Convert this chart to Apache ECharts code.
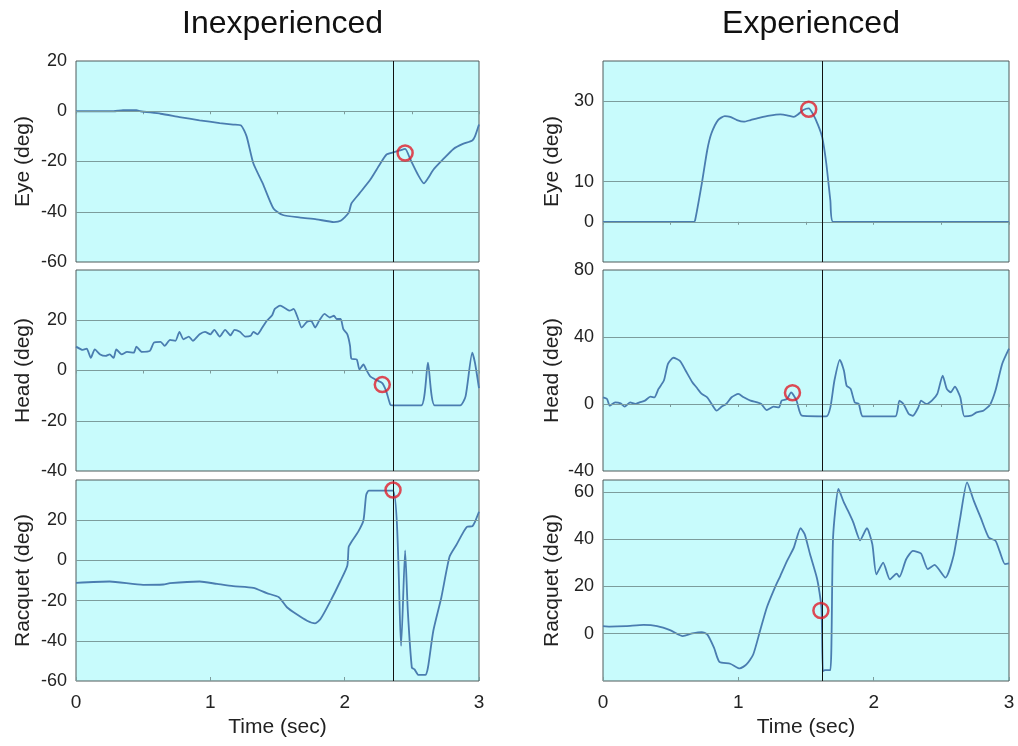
<!DOCTYPE html>
<html>
<head>
<meta charset="utf-8">
<script src="https://cdn.jsdelivr.net/npm/echarts@6/dist/echarts.min.js"></script>
<style>
  html, body { margin: 0; background: #fff; }
  #main { width: 1018px; height: 746px; }
</style>
</head>
<body>
<div id="main"></div>
<script>
// [time (sec), angle (deg)]
var inexpEye = [[0,0],[0.28,0],[0.35,0.4],[0.45,0.4],[0.48,0],[0.63,-1],[0.77,-2.3],[0.92,-3.6],[1.07,-4.7],[1.17,-5.3],[1.23,-5.7],[1.27,-10],[1.32,-20.7],[1.39,-28.7],[1.47,-38.7],[1.54,-41.3],[1.67,-42.3],[1.79,-43],[1.92,-44.1],[1.97,-43.6],[2.03,-40.4],[2.05,-36.7],[2.11,-32.7],[2.19,-27.3],[2.26,-21.3],[2.31,-17.3],[2.36,-16.4],[2.41,-15.6],[2.45,-15],[2.49,-19.3],[2.54,-24.7],[2.59,-28.7],[2.62,-26.7],[2.66,-23.3],[2.73,-19.3],[2.81,-15],[2.88,-13],[2.95,-11.6],[2.97,-10],[3,-5.3]];
var inexpHead = [[0,9.5],[0.05,8.2],[0.08,8.7],[0.11,5],[0.14,8.4],[0.18,6.4],[0.22,5.8],[0.25,6.4],[0.28,5],[0.30,8.4],[0.34,6.4],[0.38,7.4],[0.43,7.1],[0.45,9.5],[0.49,7.4],[0.55,7.8],[0.58,11.1],[0.63,11.4],[0.66,9.8],[0.70,12.2],[0.74,11.8],[0.77,15.4],[0.80,12.4],[0.84,13.5],[0.87,11.8],[0.92,14.4],[0.96,15.4],[1.00,14.4],[1.03,16.2],[1.07,13.5],[1.11,16.2],[1.15,14],[1.18,16.2],[1.22,15.4],[1.26,13.5],[1.30,13.8],[1.32,15.4],[1.35,14.4],[1.38,16.5],[1.42,19.8],[1.46,22],[1.48,24.5],[1.52,25.8],[1.56,24.7],[1.59,23.8],[1.62,24.5],[1.65,21.1],[1.68,17.1],[1.72,19.4],[1.75,19.8],[1.78,17.1],[1.81,19.8],[1.85,22.5],[1.89,21.1],[1.92,21.8],[1.94,20.5],[1.97,20.5],[1.99,16.5],[2.02,14.4],[2.04,9.8],[2.05,4.7],[2.09,4.4],[2.11,0.4],[2.14,2.4],[2.16,0.4],[2.19,-2.3],[2.24,-3.9],[2.28,-5],[2.31,-8.3],[2.34,-13.6],[2.36,-13.9],[2.57,-13.9],[2.62,3.1],[2.67,-13.9],[2.86,-13.9],[2.90,-10.3],[2.95,7.1],[2.97,3.1],[3,-7]];
var inexpRacquet = [[0,-11.2],[0.25,-10.5],[0.50,-12.2],[0.65,-12],[0.70,-11.3],[0.92,-10.5],[1.05,-11.7],[1.17,-12.8],[1.32,-13.7],[1.42,-16.3],[1.51,-18.3],[1.57,-23.3],[1.64,-26.7],[1.72,-30],[1.78,-31.3],[1.82,-29.2],[1.89,-20.8],[1.97,-10],[2.02,-2.5],[2.03,6.7],[2.05,9.2],[2.10,14.2],[2.14,20],[2.16,32.5],[2.18,34.7],[2.36,34.7],[2.42,-42.5],[2.45,5],[2.47,-25],[2.50,-53.3],[2.52,-54.2],[2.55,-57],[2.60,-57],[2.62,-53.3],[2.66,-35],[2.72,-18.3],[2.78,1.7],[2.83,7.5],[2.91,16.7],[2.95,17],[2.97,19.2],[3,24.2]];
var expEye = [[0,0],[0.667,0],[0.68,0.3],[0.73,9.5],[0.77,17.8],[0.80,21.9],[0.85,25.3],[0.90,26.3],[0.94,26.1],[0.99,25.3],[1.04,24.9],[1.09,25.3],[1.16,25.9],[1.23,26.4],[1.31,26.7],[1.36,26.5],[1.41,26.1],[1.44,26.7],[1.48,27.8],[1.52,28.2],[1.55,26.9],[1.59,24],[1.62,21],[1.65,14.5],[1.68,5.3],[1.70,0],[3,0]];
var expHead = [[0,4],[0.03,3],[0.05,-1],[0.09,1],[0.13,0.4],[0.16,-1.6],[0.20,1],[0.24,0],[0.27,1],[0.31,2],[0.35,4.4],[0.38,4],[0.41,9],[0.45,14],[0.48,24],[0.52,27.6],[0.57,25.6],[0.61,20],[0.66,13],[0.69,10],[0.73,6],[0.77,4],[0.80,0.4],[0.84,-4],[0.88,-1.4],[0.91,0],[0.95,4],[1.00,6],[1.04,4],[1.09,2],[1.14,1],[1.17,0],[1.21,-3.6],[1.26,-1.6],[1.30,-2],[1.32,2],[1.36,3],[1.39,7],[1.43,2],[1.47,-7],[1.65,-7.4],[1.68,-2],[1.71,14],[1.75,26.4],[1.78,20],[1.80,11],[1.83,9],[1.86,1],[1.89,0],[1.92,-7.4],[2.16,-7.4],[2.19,2],[2.22,0],[2.26,-6],[2.29,-7],[2.33,-2],[2.35,2],[2.39,0],[2.43,2],[2.47,6],[2.51,17],[2.54,9],[2.57,7],[2.60,10.4],[2.64,4],[2.67,-7.4],[2.72,-7],[2.76,-5],[2.81,-4],[2.86,-0.4],[2.90,8],[2.95,24],[3,33]];
var expRacquet = [[0,3.2],[0.05,3],[0.17,3.2],[0.30,3.7],[0.40,3.2],[0.50,1.4],[0.59,-1],[0.66,0.1],[0.73,0.7],[0.77,-0.3],[0.82,-5.9],[0.86,-11.9],[0.94,-12.7],[1.01,-14.7],[1.06,-13],[1.11,-8.8],[1.16,1.1],[1.21,11],[1.27,19.5],[1.31,24.4],[1.36,30.8],[1.41,36.4],[1.46,44.6],[1.49,42.1],[1.53,33.6],[1.58,23.7],[1.60,17.4],[1.615,10.3],[1.625,-15.8],[1.64,-15.4],[1.68,-15.4],[1.70,40.7],[1.74,61.2],[1.78,55.5],[1.81,52],[1.85,47],[1.90,39.5],[1.95,44.6],[1.99,37.9],[2.02,25.1],[2.07,30.1],[2.12,23],[2.17,25.4],[2.19,24],[2.24,31.5],[2.29,35],[2.35,33.9],[2.40,27.3],[2.45,29.1],[2.53,23.7],[2.59,32.9],[2.64,49.2],[2.69,64],[2.74,56.2],[2.79,49.2],[2.85,40.7],[2.90,39.3],[2.93,35],[2.97,29.4],[3,29.7]];

// contact instant (vertical line) and the circled points
var cursorTimes = [2.36, 1.62];
var markers = [[2.45,-16.6],[2.28,-5.6],[2.36,35],[1.52,28],[1.40,6.7],[1.61,9.8]];

var colTitles = ['Inexperienced', 'Experienced'];
var rowNames = ['Eye (deg)', 'Head (deg)', 'Racquet (deg)'];

var panels = [
  {col:0,row:0,data:inexpEye,min:-60,max:20,step:20,labels:[-60,-40,-20,0,20],grid:[-40,-20,0]},
  {col:0,row:1,data:inexpHead,min:-40,max:40,step:20,labels:[-40,-20,0,20],grid:[-20,0,20]},
  {col:0,row:2,data:inexpRacquet,min:-60,max:40,step:20,labels:[-60,-40,-20,0,20],grid:[-40,-20,0,20]},
  {col:1,row:0,data:expEye,min:-10,max:40,step:10,labels:[0,10,30],grid:[0,10,30]},
  {col:1,row:1,data:expHead,min:-40,max:80,step:40,labels:[-40,0,40,80],grid:[0,40]},
  {col:1,row:2,data:expRacquet,min:-20,max:65,step:20,labels:[0,20,40,60],grid:[0,20,40,60]}
];

var cols = [{left:76,width:403,gap:42},{left:603,width:406,gap:40}];
var rows = [{top:61,height:201},{top:270,height:201},{top:480,height:201}];

var font = 'Liberation Sans, Arial, sans-serif';
var lineColor = '#4a7db0';
var gridColor = '#7c9c9c';

var grids = [], xAxes = [], yAxes = [], series = [];
panels.forEach(function (p, i) {
  var c = cols[p.col], r = rows[p.row];
  var bottom = p.row === 2;
  grids.push({
    left: c.left, top: r.top, width: c.width, height: r.height,
    show: true, backgroundColor: '#c8fbfc', borderColor: '#4f5b5b', borderWidth: 1
  });
  xAxes.push({
    gridIndex: i, type: 'value', min: 0, max: 3, interval: bottom ? 1 : 0.5,
    name: bottom ? 'Time (sec)' : '', nameLocation: 'middle', nameGap: 36,
    nameTextStyle: {fontFamily: font, fontSize: 21, color: '#222'},
    axisLine: {show: false, onZero: !bottom},
    axisTick: {show: true, inside: bottom, length: bottom ? 4 : 3, lineStyle: {color: gridColor}},
    axisLabel: {show: bottom, fontFamily: font, fontSize: 19, color: '#222', margin: 12},
    splitLine: {show: false}
  });
  yAxes.push({
    gridIndex: i, type: 'value', min: p.min, max: p.max, interval: p.step,
    name: rowNames[p.row], nameLocation: 'middle', nameGap: c.gap, nameRotate: 90,
    nameTextStyle: {fontFamily: font, fontSize: 21, color: '#222'},
    axisLine: {show: false}, axisTick: {show: false}, splitLine: {show: false},
    axisLabel: {
      fontFamily: font, fontSize: 18, color: '#222', margin: 9,
      formatter: (function (list) {
        return function (v) { return list.indexOf(v) >= 0 ? String(v) : ''; };
      })(p.labels)
    }
  });
  // horizontal grid lines
  series.push({
    type: 'line', xAxisIndex: i, yAxisIndex: i, data: [], silent: true, z: 1,
    markLine: {
      silent: true, symbol: 'none', label: {show: false}, animation: false,
      lineStyle: {color: gridColor, width: 1, type: 'solid'},
      data: p.grid.map(function (v) { return {yAxis: v}; })
    }
  });
  series.push({
    type: 'line', xAxisIndex: i, yAxisIndex: i, data: p.data, showSymbol: false,
    smooth: 0.2, lineStyle: {color: lineColor, width: 1.8}, z: 2,
    markLine: {
      silent: true, symbol: 'none', label: {show: false}, animation: false,
      lineStyle: {color: '#111', width: 1, type: 'solid'},
      data: [{xAxis: cursorTimes[p.col]}]
    }
  });
  series.push({
    type: 'scatter', xAxisIndex: i, yAxisIndex: i, data: [markers[i]], z: 5,
    symbol: 'circle', symbolSize: 15,
    itemStyle: {color: 'rgba(0,0,0,0)', borderColor: '#e01e2a', borderWidth: 2.5}
  });
});

var chart = echarts.init(document.getElementById('main'));
chart.setOption({
  animation: false,
  title: colTitles.map(function (t, k) {
    return {
      text: t, left: cols[k].left + cols[k].width / 2, top: 3, textAlign: 'center',
      textStyle: {fontFamily: font, fontSize: 32, fontWeight: 'normal', color: '#111'}
    };
  }),
  grid: grids,
  xAxis: xAxes,
  yAxis: yAxes,
  series: series
});
</script>
</body>
</html>
